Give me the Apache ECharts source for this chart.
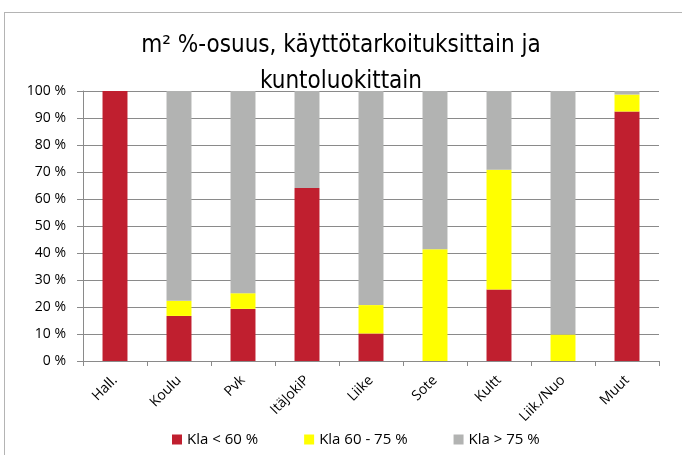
<!DOCTYPE html>
<html>
<head>
<meta charset="utf-8">
<script src="https://cdn.jsdelivr.net/npm/echarts@6/dist/echarts.min.js"></script>
<style>
  html, body { margin: 0; padding: 0; background: #fff; }
  #main { width: 682px; height: 455px; }
  .frame {
    position: absolute; left: 4px; top: 12px; width: 720px; height: 480px;
    border: 1px solid #b4b4b4; pointer-events: none;
  }
</style>
</head>
<body>
<div id="main"></div>
<div class="frame"></div>
<script>
const categories = ['Hall.', 'Koulu', 'Pvk', 'ItäJokiP', 'Liike', 'Sote', 'Kultt', 'Liik./Nuo', 'Muut'];
const seriesNames = ['Kla < 60 %', 'Kla 60 - 75 %', 'Kla > 75 %'];
const klaUnder60 = [100, 16.7, 19.3, 64.1, 10.2, 0, 26.5, 0, 92.4];
const kla60to75 = [0, 5.6, 5.8, 0, 10.5, 41.4, 44.3, 9.8, 6.3];
const klaOver75 = [0, 77.7, 74.9, 35.9, 79.3, 58.6, 29.2, 90.2, 1.3];
const yTicks = [0, 10, 20, 30, 40, 50, 60, 70, 80, 90, 100];
const colors = ['#c01f2f', '#ffff00', '#b2b3b2'];

const font = 'Open Sans';
const chart = echarts.init(document.getElementById('main'));

const values = [klaUnder60, kla60to75, klaOver75];
const option = {
    animation: false,
    title: {
        text: 'm² %-osuus, käyttötarkoituksittain ja\nkuntoluokittain',
        left: 'center',
        top: 23,
        textStyle: {
            fontFamily: 'DejaVu Sans Condensed, Roboto, sans-serif',
            fontSize: 24,
            fontWeight: 'normal',
            color: '#000',
            lineHeight: 36
        }
    },
    grid: {
        left: 83,
        right: 23,
        top: 91,
        bottom: 94
    },
    legend: {
        top: 427,
        left: 167,
        itemWidth: 10,
        itemHeight: 10,
        itemGap: 46,
        icon: 'rect',
        textStyle: {fontFamily: font, fontSize: 15, color: '#000'},
        data: seriesNames
    },
    xAxis: {
        type: 'category',
        data: categories,
        axisLine: {lineStyle: {color: '#8a8a8a'}},
        axisTick: {show: true, length: 5, lineStyle: {color: '#8a8a8a'}},
        axisLabel: {
            rotate: 45,
            margin: 17,
            fontFamily: font,
            fontSize: 14,
            color: '#000'
        }
    },
    yAxis: {
        type: 'value',
        min: 0,
        max: 100,
        interval: 10,
        axisLine: {show: true, lineStyle: {color: '#8a8a8a'}},
        axisTick: {show: true, length: 6, lineStyle: {color: '#8a8a8a'}},
        axisLabel: {
            margin: 17,
            fontFamily: font,
            fontSize: 14,
            color: '#000',
            formatter: v => yTicks.includes(v) ? v + ' %' : ''
        },
        splitLine: {lineStyle: {color: '#8a8a8a'}}
    },
    series: seriesNames.map((name, i) => ({
        name: name,
        type: 'bar',
        stack: 'total',
        barWidth: '39%',
        data: values[i],
        itemStyle: {color: colors[i]}
    }))
};
chart.setOption(option);
</script>
</body>
</html>
